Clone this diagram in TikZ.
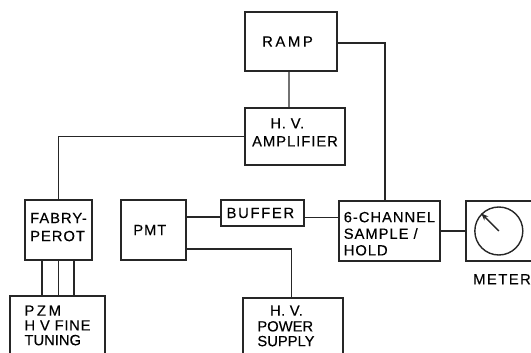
\documentclass[tikz,border=0pt]{standalone}
\usepackage{fontspec}
\setmainfont[FakeBold=0.3]{Liberation Sans}
\usetikzlibrary{positioning,arrows.meta,calc}
\newcommand{\ls}[1]{\addfontfeature{LetterSpace=#1}}
\tikzset{
  every node/.style={font=\fontsize{10.5}{11.8}\selectfont},
  blk/.style={
    draw=black!85, line width=1.3pt, align=left, inner sep=0pt,
    minimum width=#1
  },
  wire/.style={line width=0.9pt, draw=black!85}
}

\begin{document}
\begin{tikzpicture}
\useasboundingbox (0,0) rectangle (13.275,8.8);

\node[blk=2.3cm, minimum height=1.475cm] (ramp) at (7.275,7.7625)
  {\ls{18}RAMP\hspace*{5pt}};
\node[blk=2.5cm, minimum height=1.425cm, below=0.875cm of ramp, xshift=0.1cm] (amp)
  {\hspace*{13pt}\ls{5}H. V.\\[1pt]\ls{6.6}AMPLIFIER\rule[-5.7pt]{0pt}{0pt}};

\node[blk=1.675cm, minimum height=1.5cm] (fabry) at (1.4625,3.05)
  {\ls{6.6}FABRY-\\[1pt]\ls{6.6}PEROT\rule[-4.2pt]{0pt}{0pt}};
\node[blk=1.625cm, minimum height=1.5cm, right=0.675cm of fabry] (pmt)
  {\ls{6}PMT\hspace*{5pt}};
\node[blk=2.075cm, minimum height=0.65cm] (buffer) at (6.5625,3.475)
  {\ls{11.5}BUFFER\hspace*{3pt}};
\node[blk=2.525cm, minimum height=1.5cm] (six) at (9.7375,3.025)
  {\rule{0pt}{11.2pt}\ls{6.6}6-CHANNEL\\\ls{6.6}SAMPLE /\\\ls{6.6}HOLD};
\node[blk=1.65cm, minimum height=1.5cm, right=0.6cm of six] (meter) {};
\node[draw=black!85, line width=1pt, circle, minimum size=1.2cm, inner sep=0pt] (dial) at (meter) {};
\node[below=0.3cm of meter, inner sep=0pt, xshift=0.08cm] (metername) {\ls{10}METER};

\node[blk=2.375cm, minimum height=1.475cm, anchor=north] (pzm) at (1.4375,1.425)
  {\ls{18}PZM\\[-1.3pt]\ls{5}H V FINE\\[-1.3pt]\ls{0}TUNING};
\node[blk=2.5cm, minimum height=1.4cm, anchor=north] (supply) at (7.325,1.375)
  {\hspace*{9pt}\ls{3}H. V.\\[-0.6pt]\ls{0}POWER\\[-1.3pt]\ls{0}SUPPLY\hspace*{10pt}};

\draw[wire] ([xshift=-0.05cm]ramp.south) -- ([xshift=-0.15cm]amp.north);
\draw[wire] ([yshift=-0.04cm]ramp.east) -| ([xshift=-0.11cm]six.north);
\draw[wire] (amp.west) -| (fabry.north);
\draw[wire] ([xshift=-0.41cm]fabry.south) -- ([xshift=-0.41cm]fabry.south |- pzm.north);
\draw[wire] (fabry.south) -- (fabry.south |- pzm.north);
\draw[wire] ([xshift=0.39cm]fabry.south) -- ([xshift=0.39cm]fabry.south |- pzm.north);
\draw[wire] ([yshift=0.325cm]pmt.east) -- ([yshift=-0.1cm]buffer.west);
\draw[wire] ([yshift=-0.12cm]buffer.east) -- ([yshift=-0.12cm]buffer.east -| six.west);
\draw[wire] ([yshift=-0.475cm]pmt.east) -| ([xshift=-0.03cm]supply.north);
\draw[wire] (six.east) -- (six.east -| meter.west);
\draw[line width=1pt, draw=black!85, -{Stealth[length=5pt,width=4pt]}] (dial.center) -- (dial.135);

\end{tikzpicture}
\end{document}
